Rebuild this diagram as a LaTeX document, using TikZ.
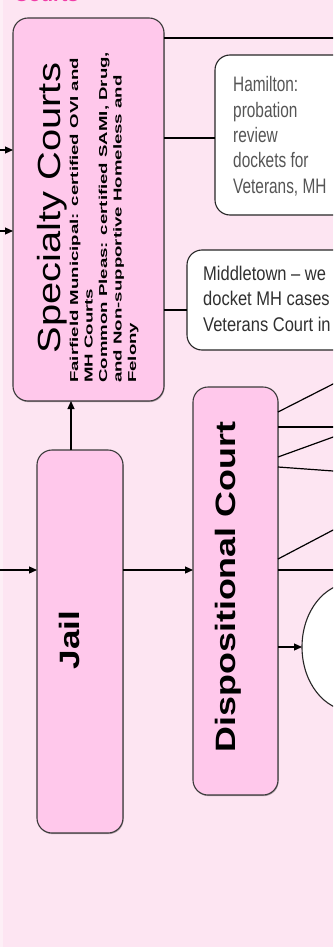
\documentclass[tikz,border=0pt]{standalone}
\usepackage{fontspec}
\setmainfont{Liberation Sans}
\usepackage{graphicx}
\usetikzlibrary{arrows.meta,shadows,shapes.geometric}
\definecolor{bgpink}{HTML}{FDE5F2}
\definecolor{bgedge}{HTML}{FDEFF6}
\definecolor{boxpink}{HTML}{FFC8EB}
\definecolor{edgegray}{HTML}{3A3A3A}
\definecolor{hdrpink}{HTML}{F03CA8}
\definecolor{notegray}{HTML}{555555}
\definecolor{notedark}{HTML}{303030}
\begin{document}
\begin{tikzpicture}[x=1pt,y=-1pt,
  box/.style={draw=edgegray, line width=1.1pt, fill=boxpink, rounded corners=15pt,
    inner sep=0pt, outer sep=0pt,
    drop shadow={shadow xshift=0.6pt, shadow yshift=-1.2pt, opacity=0.3, fill=black}},
  note/.style={draw=black!85, line width=1.1pt, fill=white, rounded corners=15pt,
    inner sep=0pt, outer sep=0pt},
  conn/.style={line width=1.2pt, black},
  arr/.style={conn, -{Triangle[length=8pt,width=7pt]}},
  vtext/.style={rotate=90, anchor=base, inner sep=0pt},
  smalltext/.style={rotate=90, anchor=base west, inner sep=0pt, font=\fontsize{11.5}{13}\selectfont\bfseries},
  hamtext/.style={anchor=base west, inner sep=0pt, text=notegray, font=\fontsize{15.4}{18}\selectfont},
  midtext/.style={anchor=base west, inner sep=0pt, text=notedark, font=\fontsize{16.5}{19}\selectfont}]
\useasboundingbox (0,0) rectangle (333,947);
\clip (0,0) rectangle (333,947);
\fill[bgpink] (0,0) rectangle (333,947);
\fill[bgedge] (0,0) rectangle (3,947);

% header (cut off at top)
\node[anchor=base west, inner sep=0pt, text=hdrpink] (hdr) at (14,2) {\fontsize{20}{22}\selectfont\bfseries Courts};

% boxes
\node[box, minimum width=151pt, minimum height=383pt] (spec) at (88.5,209.5) {};
\node[box, minimum width=86pt, minimum height=383pt] (jail) at (80,641.5) {};
\node[box, minimum width=85pt, minimum height=408pt] (disp) at (235.5,591) {};
\node[note, minimum width=140pt, minimum height=160pt, anchor=north west] (ham) at (215,55) {};
\node[note, minimum width=170pt, minimum height=100pt, anchor=north west] (mid) at (187,250) {};
\node[draw=black!85, line width=1.1pt, fill=white, ellipse, minimum width=100pt,
  minimum height=128pt, inner sep=0pt, outer sep=0pt] (circ) at (352,647) {};

% texts in the pink boxes
\node[vtext] (spect) at (60,208) {\scalebox{1.245}[1]{\fontsize{32}{36}\selectfont Specialty Courts}};
\node[smalltext] (sl1) at (78,383) {\scalebox{1.62}[1]{Fairfield Municipal: certified OVI and}};
\node[smalltext] (sl2) at (92.5,383) {\scalebox{1.62}[1]{MH Courts}};
\node[smalltext] (sl3) at (107,383) {\scalebox{1.62}[1]{Common Pleas: certified SAMI, Drug,}};
\node[smalltext] (sl4) at (121.5,383) {\scalebox{1.62}[1]{and Non-supportive Homeless and}};
\node[smalltext] (sl5) at (136,383) {\scalebox{1.62}[1]{Felony}};
\node[vtext] (jailt) at (79,640) {\scalebox{1.25}[1]{\fontsize{28}{30}\selectfont\bfseries Jail}};
\node[vtext] (dispt) at (235,587) {\scalebox{1.28}[1]{\fontsize{28}{30}\selectfont\bfseries Dispositional Court}};

% note texts
\node[hamtext] (h1) at (233,92) {\scalebox{1}[1.36]{Hamilton:}};
\node[hamtext] (h2) at (233,117.25) {\scalebox{1}[1.36]{probation}};
\node[hamtext] (h3) at (233,142.5) {\scalebox{1}[1.36]{review}};
\node[hamtext] (h4) at (233,167.75) {\scalebox{1}[1.36]{dockets for}};
\node[hamtext] (h5) at (233,193) {\scalebox{1}[1.36]{Veterans, MH}};
\node[midtext] (m1) at (203,280) {\scalebox{1}[1.2]{Middletown – we}};
\node[midtext] (m2) at (203,305.5) {\scalebox{1}[1.2]{docket MH cases}};
\node[midtext] (m3) at (203,331) {\scalebox{1}[1.2]{Veterans Court in}};

% connectors
\coordinate (inA) at (0,150);
\coordinate (inB) at (0,231);
\coordinate (inJ) at (0,570);
\draw[arr] (inA) -- (inA -| spec.west);
\draw[arr] (inB) -- (inB -| spec.west);
\draw[arr] (inJ) -- (inJ -| jail.west);
\draw[arr] (inJ -| jail.east) -- (inJ -| disp.west);
\coordinate (jup) at ([xshift=-9pt]jail.north);
\draw[arr] (jup) -- (jup |- spec.south);

\coordinate (topR) at (336,38);
\draw[conn] (topR -| spec.east) -- (topR);
\coordinate (hA) at ([yshift=-3pt]ham.west);
\draw[conn] (hA -| spec.east) -- (hA);
\coordinate (mA) at ([yshift=-10pt]mid.west);
\draw[conn] (mA -| spec.east) -- (mA);

\coordinate (da) at (0,412);   \coordinate (ea) at (336,382.5);
\coordinate (db) at (0,427);   \coordinate (eb) at (336,427);
\coordinate (dc) at (0,457);   \coordinate (ec) at (336,436);
\coordinate (dd) at (0,467);   \coordinate (ed) at (336,471.2);
\coordinate (de) at (0,559);   \coordinate (ee) at (336,528.5);
\coordinate (df) at (0,570);   \coordinate (ef) at (336,570);
\draw[conn] (da -| disp.east) -- (ea);
\draw[conn] (db -| disp.east) -- (eb);
\draw[conn] (dc -| disp.east) -- (ec);
\draw[conn] (dd -| disp.east) -- (ed);
\draw[conn] (de -| disp.east) -- (ee);
\draw[conn] (df -| disp.east) -- (ef);
\draw[arr] (circ.west -| disp.east) -- (circ.west);
\end{tikzpicture}
\end{document}
